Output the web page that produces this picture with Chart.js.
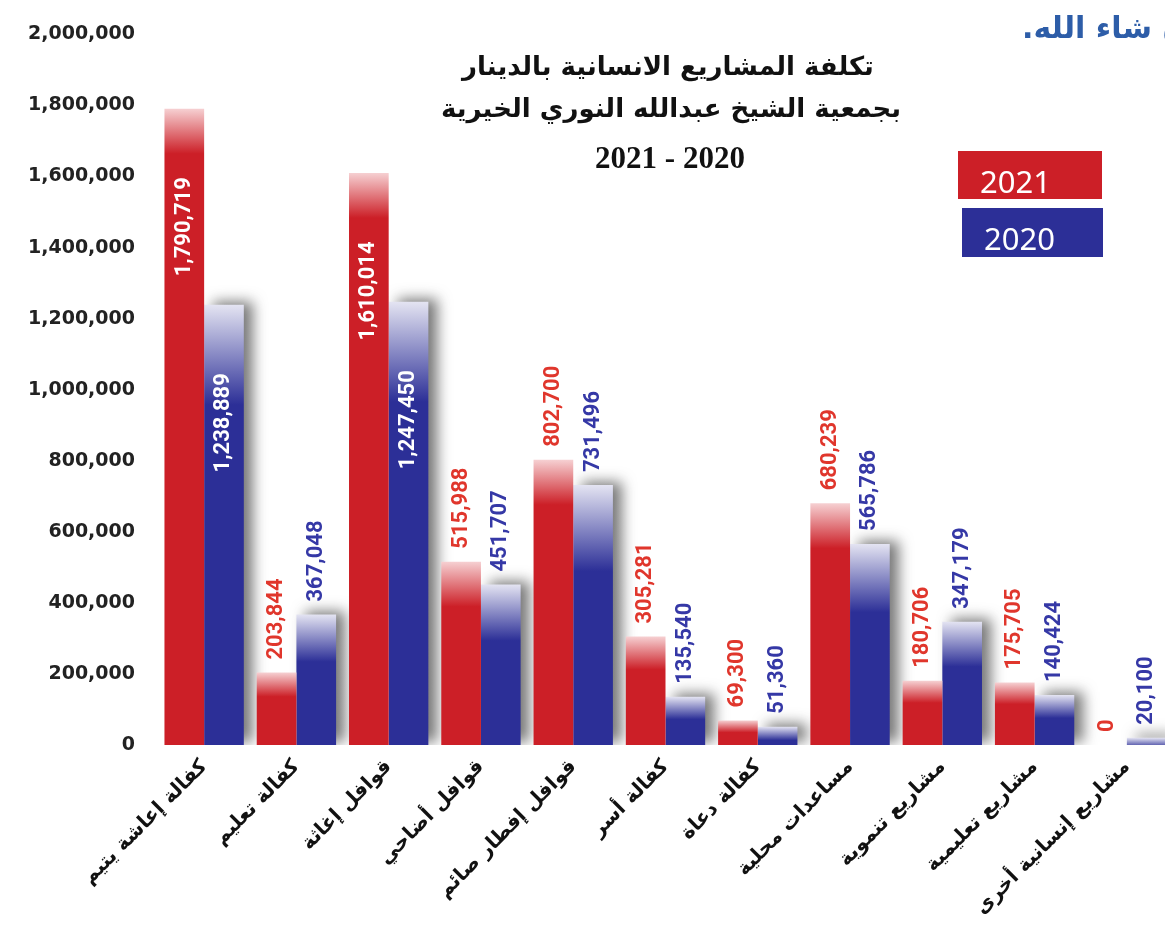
<!DOCTYPE html>
<html>
<head>
<meta charset="utf-8">
<script src="https://cdn.jsdelivr.net/npm/chart.js@4.4.0/dist/chart.umd.min.js"></script>
<style>
  html, body { margin: 0; padding: 0; background: #ffffff; overflow: hidden; }
  canvas { display: block; }
</style>
</head>
<body>
<canvas id="chart1" width="1200" height="937"></canvas>
<script>
// categories (left to right as printed)
const categories = [
  'كفالة إعاشة يتيم',
  'كفالة تعليم',
  'قوافل إغاثة',
  'قوافل أضاحي',
  'قوافل إفطار صائم',
  'كفالة أسر',
  'كفالة دعاة',
  'مساعدات محلية',
  'مشاريع تنموية',
  'مشاريع تعليمية',
  'مشاريع إنسانية أخرى'
]
const cost2021 = [1790719, 203844, 1610014, 515988, 802700, 305281, 69300, 680239, 180706, 175705, 0]
const cost2020 = [1238889, 367048, 1247450, 451707, 731496, 135540, 51360, 565786, 347179, 140424, 20100]
const seriesNames = ['2021', '2020']
const titleLines = ['تكلفة المشاريع الانسانية بالدينار', 'بجمعية الشيخ عبدالله النوري الخيرية', '2021 - 2020']
const cornerNote = 'إن شاء الله.'

const RED = '#cc1f27'
const BLUE = '#2c2f97'

function redFill(c) {
  const y = c.chart.scales.y
  if (!y || c.raw == null) return RED
  const top = y.getPixelForValue(c.raw)
  const h = y.getPixelForValue(0) - top
  if (!isFinite(top) || !isFinite(h)) return RED
  const g = c.chart.ctx.createLinearGradient(0, top, 0, top + Math.min(45, h * 0.25 + 6))
  g.addColorStop(0, '#f6d0d2')
  g.addColorStop(1, RED)
  return g
}

function blueFill(c) {
  const y = c.chart.scales.y
  if (!y || c.raw == null) return BLUE
  const top = y.getPixelForValue(c.raw)
  const h = y.getPixelForValue(0) - top
  if (!isFinite(top) || !isFinite(h)) return BLUE
  const g = c.chart.ctx.createLinearGradient(0, top, 0, top + Math.min(100, h * 0.3 + 8))
  g.addColorStop(0, '#e4e4f2')
  g.addColorStop(1, BLUE)
  return g
}

// drop shadow behind the 2020 bars
const shadowPlugin = {
  id: 'shadow',
  beforeDatasetDraw(chart, args) {
    if (args.index !== 1) return
    const ctx = chart.ctx
    ctx.save()
    ctx.shadowColor = 'rgba(30,30,30,0.6)'
    ctx.shadowBlur = 14
    ctx.shadowOffsetX = 9
    ctx.shadowOffsetY = -3
  },
  afterDatasetDraw(chart, args) {
    if (args.index !== 1) return
    chart.ctx.restore()
  }
}

// vertical value labels
const valuePlugin = {
  id: 'values',
  afterDatasetsDraw(chart) {
    const ctx = chart.ctx
    const txtColors = ['#e0362c', '#3538a6']
    chart.data.datasets.forEach((ds, di) => {
      const meta = chart.getDatasetMeta(di)
      meta.data.forEach((bar, i) => {
        const v = ds.data[i]
        const txt = v.toLocaleString('en-US')
        ctx.save()
        ctx.font = 'bold 22px Roboto'
        ctx.textBaseline = 'middle'
        if (v > 1000000) {
          ctx.translate(bar.x, bar.y + 118)
          ctx.rotate(-Math.PI / 2)
          ctx.textAlign = 'center'
          ctx.fillStyle = '#ffffff'
        } else {
          ctx.translate(bar.x, bar.y - 13)
          ctx.rotate(-Math.PI / 2)
          ctx.textAlign = 'left'
          ctx.fillStyle = txtColors[di]
        }
        ctx.fillText(txt, 0, 0)
        ctx.restore()
      })
    })
  }
}

// title, legend boxes and the clipped note
const decoPlugin = {
  id: 'deco',
  afterDraw(chart) {
    const ctx = chart.ctx
    ctx.save()
    ctx.fillStyle = '#111111'
    ctx.textAlign = 'center'
    ctx.textBaseline = 'middle'
    ctx.font = 'bold 26px "DejaVu Sans"'
    ctx.fillText(titleLines[0], 668, 68)
    ctx.fillText(titleLines[1], 671, 110)
    ctx.font = 'bold 31px "Liberation Serif"'
    ctx.fillText(titleLines[2], 670, 160)

    // legend
    const boxes = [[958, 151, 144, 48], [962, 208, 141, 49]]
    const fills = [RED, BLUE]
    chart.data.datasets.forEach((ds, i) => {
      const b = boxes[i]
      ctx.fillStyle = fills[i]
      ctx.fillRect(b[0], b[1], b[2], b[3])
      ctx.fillStyle = '#ffffff'
      ctx.textAlign = 'left'
      ctx.textBaseline = 'alphabetic'
      ctx.font = '31px "Noto Sans"'
      ctx.fillText(ds.label, b[0] + 22, b[1] + 42)
    })

    ctx.fillStyle = '#2d5da8'
    ctx.font = 'bold 30px "DejaVu Sans"'
    ctx.direction = 'rtl'
    ctx.textAlign = 'left'
    ctx.textBaseline = 'middle'
    ctx.fillText(cornerNote, 1022, 30)
    ctx.restore()
  }
}

const ctx1 = document.getElementById('chart1').getContext('2d')
const chart1 = new Chart(ctx1, {
  type: 'bar',
  data: {
    labels: categories,
    datasets: [{
      label: seriesNames[0],
      data: cost2021,
      backgroundColor: redFill,
      borderWidth: 0
    },
    {
      label: seriesNames[1],
      data: cost2020,
      backgroundColor: blueFill,
      borderWidth: 0
    }]
  },
  options: {
    responsive: false,
    animation: false,
    categoryPercentage: 0.86,
    barPercentage: 1.0,
    layout: {
      padding: { top: 12, right: 27, left: 0, bottom: 0 }
    },
    scales: {
      x: {
        grid: { display: false, drawTicks: false },
        border: { display: false },
        ticks: {
          autoSkip: false,
          minRotation: 45,
          maxRotation: 45,
          padding: 10,
          color: '#111111',
          font: { family: 'DejaVu Sans', weight: 'bold', size: 20 }
        },
        afterFit(scale) { scale.height = 192 }
      },
      y: {
        min: 0,
        max: 2000000,
        grid: { display: false, drawTicks: false },
        border: { display: false },
        ticks: {
          stepSize: 200000,
          padding: 23,
          color: '#222222',
          font: { family: 'DejaVu Sans', weight: 'bold', size: 19 },
          callback: v => v.toLocaleString('en-US')
        },
        afterFit(scale) { scale.width = 158 }
      }
    },
    plugins: {
      legend: { display: false },
      title: { display: false },
      tooltip: { enabled: false }
    }
  },
  plugins: [shadowPlugin, valuePlugin, decoPlugin]
})
</script>
</body>
</html>
